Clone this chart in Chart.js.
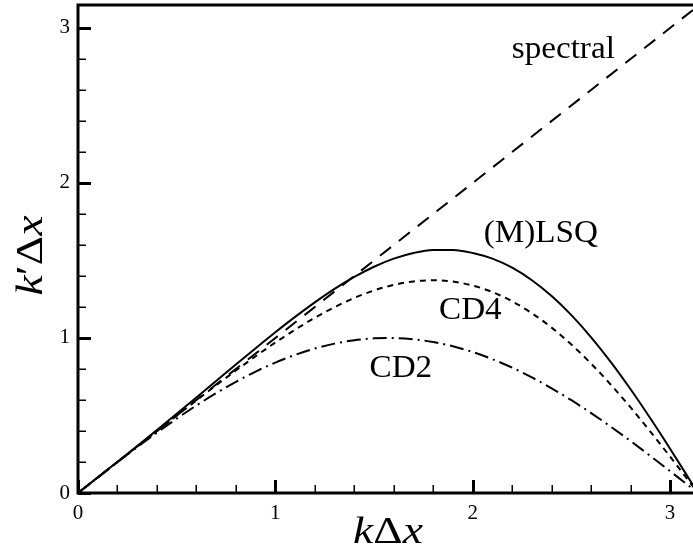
<!DOCTYPE html>
<html>
<head>
<meta charset="utf-8">
<script src="https://cdn.jsdelivr.net/npm/chart.js@4.4.1/dist/chart.umd.min.js"></script>
<style>
  html, body { margin: 0; padding: 0; background: #fff; overflow: hidden; }
  #wrap { width: 720px; height: 553px; }
</style>
</head>
<body>
<div id="wrap"><canvas id="c" width="720" height="553"></canvas></div>
<script>
// Modified wavenumber k'Δx against kΔx for several derivative schemes
const kMax = 3.14159;
const kdx = [0, 0.1, 0.2, 0.3, 0.4, 0.5, 0.6, 0.7, 0.8, 0.9, 1.0, 1.1, 1.2, 1.3, 1.4, 1.5,
             1.6, 1.7, 1.8, 1.9, 2.0, 2.1, 2.2, 2.3, 2.4, 2.5, 2.6, 2.7, 2.8, 2.9, 3.0, 3.1, 3.14159];
const cd2 = [0, 0.0998, 0.1987, 0.2955, 0.3894, 0.4794, 0.5646, 0.6442, 0.7174, 0.7833, 0.8415,
             0.8912, 0.9320, 0.9636, 0.9854, 0.9975, 0.9996, 0.9917, 0.9738, 0.9463, 0.9093,
             0.8632, 0.8085, 0.7457, 0.6755, 0.5985, 0.5155, 0.4274, 0.3350, 0.2392, 0.1411, 0.0416, 0];
const cd4 = [0, 0.1000, 0.2000, 0.2999, 0.3997, 0.4990, 0.5975, 0.6947, 0.7899, 0.8821, 0.9704,
             1.0535, 1.1301, 1.1989, 1.2581, 1.3065, 1.3425, 1.3648, 1.3721, 1.3637, 1.3385,
             1.2962, 1.2366, 1.1599, 1.0667, 0.9578, 0.8346, 0.6986, 0.5519, 0.3964, 0.2347, 0.0693, 0];
const lsq = [0, 0.1006, 0.2019, 0.3038, 0.4068, 0.5111, 0.6165, 0.7226, 0.8288, 0.9338, 1.0369,
             1.1361, 1.2299, 1.3167, 1.3937, 1.4596, 1.5118, 1.5485, 1.5677, 1.5681, 1.5483,
             1.5116, 1.4531, 1.3726, 1.2704, 1.1472, 1.0045, 0.8443, 0.6692, 0.4818, 0.2858, 0.0844, 0];
const spectralX = [0, 3.14159];
const spectralY = [0, 3.14159];

const xMajorTicks = [0, 1, 2, 3];
const xTickLabels = ['0', '1', '2', '3'];
const xMinorTicks = [0.2, 0.4, 0.6, 0.8, 1.2, 1.4, 1.6, 1.8, 2.2, 2.4, 2.6, 2.8, 3.0];
const yMajorTicks = [0, 1, 2, 3];
const yTickLabels = ['0', '1', '2', '3'];
const yMinorTicks = [0.2, 0.4, 0.6, 0.8, 1.2, 1.4, 1.6, 1.8, 2.2, 2.4, 2.6, 2.8, 3.0];

const curveLabels = ['spectral', '(M)LSQ', 'CD4', 'CD2'];
const curveLabelX = [2.459, 2.345, 1.988, 1.636];
const curveLabelY = [2.806, 1.621, 1.121, 0.750];

const SERIF = '"Liberation Serif", "Times New Roman", serif';

const pts = (xs, ys) => xs.map((x, i) => ({ x: x, y: ys[i] }));

// Frame, inward tick marks, curve labels and axis titles
const framePlugin = {
  id: 'frame',
  afterDatasetsDraw(chart) {
    const ctx = chart.ctx;
    const a = chart.chartArea;
    const xs = chart.scales.x, ys = chart.scales.y;
    ctx.save();
    ctx.strokeStyle = '#000';
    ctx.lineCap = 'butt';

    // minor ticks
    ctx.lineWidth = 1.5;
    ctx.beginPath();
    xMinorTicks.forEach(v => {
      const px = Math.round(xs.getPixelForValue(v)) + 0.25;
      ctx.moveTo(px, a.bottom); ctx.lineTo(px, a.bottom - 8);
    });
    yMinorTicks.forEach(v => {
      const py = Math.round(ys.getPixelForValue(v)) + 0.25;
      ctx.moveTo(a.left, py); ctx.lineTo(a.left + 8, py);
    });
    ctx.stroke();

    // major ticks
    ctx.lineWidth = 3;
    ctx.beginPath();
    xMajorTicks.forEach(v => {
      const px = Math.round(xs.getPixelForValue(v)) + 0.5;
      ctx.moveTo(px, a.bottom); ctx.lineTo(px, a.bottom - 13);
    });
    yMajorTicks.forEach(v => {
      const py = Math.round(ys.getPixelForValue(v)) + 0.5;
      ctx.moveTo(a.left, py); ctx.lineTo(a.left + 13, py);
    });
    ctx.stroke();

    // frame
    ctx.lineWidth = 3;
    ctx.beginPath();
    ctx.moveTo(a.left, a.top - 1); ctx.lineTo(a.right, a.top - 1);
    ctx.moveTo(a.left, a.top - 2.5); ctx.lineTo(a.left, a.bottom + 1.5);
    ctx.moveTo(a.left - 1.5, a.bottom); ctx.lineTo(a.right, a.bottom);
    ctx.stroke();

    // curve labels (slightly widened serif)
    ctx.fillStyle = '#000';
    ctx.font = '31px ' + SERIF;
    ctx.textAlign = 'center';
    ctx.textBaseline = 'alphabetic';
    curveLabels.forEach((t, i) => {
      ctx.save();
      ctx.translate(xs.getPixelForValue(curveLabelX[i]), ys.getPixelForValue(curveLabelY[i]));
      ctx.scale(1.07, 1);
      ctx.fillText(t, 0, 0);
      ctx.restore();
    });

    // axis titles with italic symbols
    const drawParts = (parts, cx, cy) => {
      let total = 0;
      parts.forEach(p => { ctx.font = p[1] + ' 38px ' + SERIF; p.w = ctx.measureText(p[0]).width; total += p.w; });
      ctx.save();
      ctx.translate(cx, cy);
      ctx.scale(1.2, 1);
      let x = -total / 2;
      ctx.textAlign = 'left';
      parts.forEach(p => { ctx.font = p[1] + ' 38px ' + SERIF; ctx.fillText(p[0], x, 0); x += p.w; });
      ctx.restore();
    };
    drawParts([['k', 'italic'], ['\u0394', 'normal'], ['x', 'italic']], (a.left + a.right) / 2, 543);
    ctx.save();
    ctx.translate(42, (a.top + a.bottom) / 2 + 6);
    ctx.rotate(-Math.PI / 2);
    drawParts([['k', 'italic'], ['\u2032', 'normal'], ['\u0394', 'normal'], ['x', 'italic']], 0, 0);
    ctx.restore();

    ctx.restore();
  }
};

new Chart(document.getElementById('c'), {
  type: 'line',
  data: {
    datasets: [
      { label: 'spectral', data: pts(spectralX, spectralY), borderColor: '#000', borderWidth: 2,
        borderDash: [14, 10], pointRadius: 0, fill: false },
      { label: '(M)LSQ', data: pts(kdx, lsq), borderColor: '#000', borderWidth: 2,
        pointRadius: 0, fill: false, cubicInterpolationMode: 'monotone' },
      { label: 'CD4', data: pts(kdx, cd4), borderColor: '#000', borderWidth: 2,
        borderDash: [6, 5], pointRadius: 0, fill: false, cubicInterpolationMode: 'monotone' },
      { label: 'CD2', data: pts(kdx, cd2), borderColor: '#000', borderWidth: 2,
        borderDash: [14, 5, 2, 5], pointRadius: 0, fill: false, cubicInterpolationMode: 'monotone' }
    ]
  },
  options: {
    responsive: false,
    devicePixelRatio: 1,
    animation: false,
    layout: { padding: { top: 6, right: 22, left: 0, bottom: 0 } },
    plugins: { legend: { display: false }, tooltip: { enabled: false } },
    scales: {
      x: {
        type: 'linear', min: 0, max: kMax,
        grid: { display: false, drawTicks: false },
        border: { display: false },
        afterBuildTicks: s => { s.ticks = xMajorTicks.map(v => ({ value: v })); },
        afterFit: s => { s.height = 60; s.paddingLeft = 0; s.paddingRight = 0; },
        ticks: {
          padding: 8, color: '#000', maxRotation: 0, autoSkip: false,
          font: { family: SERIF, size: 21 },
          callback: v => xTickLabels[xMajorTicks.indexOf(v)]
        }
      },
      y: {
        type: 'linear', min: 0, max: kMax,
        grid: { display: false, drawTicks: false },
        border: { display: false },
        afterBuildTicks: s => { s.ticks = yMajorTicks.map(v => ({ value: v })); },
        afterFit: s => { s.width = 78; s.paddingTop = 0; s.paddingBottom = 0; },
        ticks: {
          padding: 8, color: '#000', autoSkip: false,
          font: { family: SERIF, size: 21 },
          callback: v => yTickLabels[yMajorTicks.indexOf(v)]
        }
      }
    }
  },
  plugins: [framePlugin]
});
</script>
</body>
</html>
